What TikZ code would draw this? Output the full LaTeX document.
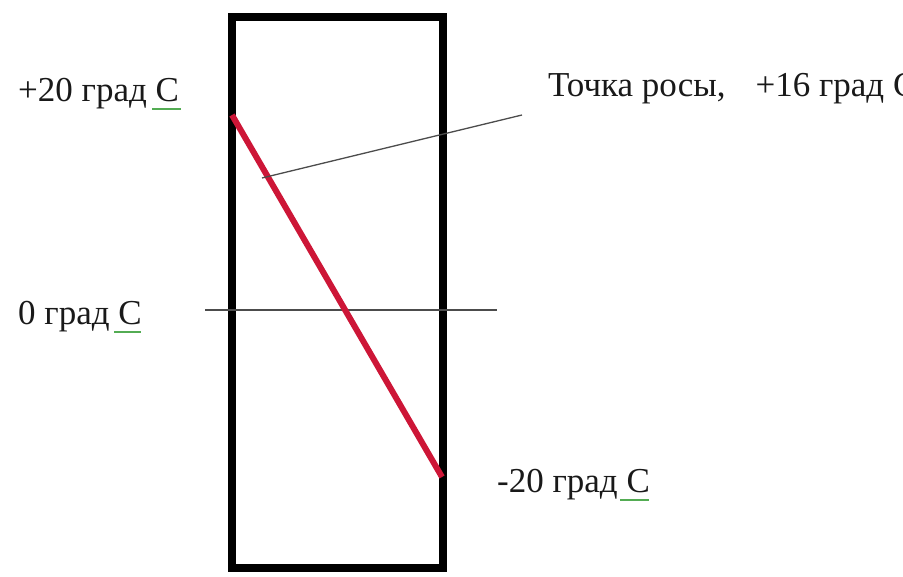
\documentclass[tikz,border=0pt]{standalone}
\usepackage{fontspec}
\setmainfont{Liberation Serif}
\definecolor{tempred}{RGB}{205,22,55}
\begin{document}
\begin{tikzpicture}[x=1pt,y=-1pt,
  lbl/.style={anchor=base west,inner sep=0pt,font=\fontsize{35}{40}\selectfont,text=black!90},
  spell/.style={draw=green!35!gray,line width=1.2pt},
  thin/.style={draw=black!70,line width=1.3pt},
  wall/.style={draw=black,line width=8pt},
  temp/.style={draw=tempred,line width=6pt}]
\useasboundingbox (0,0) rectangle (903,577);
\begin{scope}
\clip (0,0) rectangle (903,577);
% wall
\node[wall,minimum width=211pt,minimum height=551pt,inner sep=0pt] (box) at (337.5,292.5) {};
% labels
\node[lbl] (t20) at (18,102) {+20 град С};
\node[lbl] (t0) at (18,325) {0 град С};
\node[lbl] (tm20) at (497,493) {-20 град С};
\node[lbl] (dew) at (548,97) {Точка росы,\hspace{30pt}+16 град С};
% spell-check underlines
\draw[spell] (152,109) -- (181,109);
\draw[spell] (114,332) -- (141,332);
\draw[spell] (620,500) -- (649,500);
% zero line
\coordinate (z1) at (205,310);
\coordinate (z2) at (497,310);
\draw[thin] (z1) -- (z2);
% temperature line
\coordinate (tin) at (232,115);
\coordinate (tout) at (442,477);
\draw[temp] (tin) -- (tout);
% dew point pointer
\coordinate (dp) at (262,178);
\coordinate (dpl) at (522,115);
\draw[thin] (dp) -- (dpl);
\end{scope}
\end{tikzpicture}
\end{document}
